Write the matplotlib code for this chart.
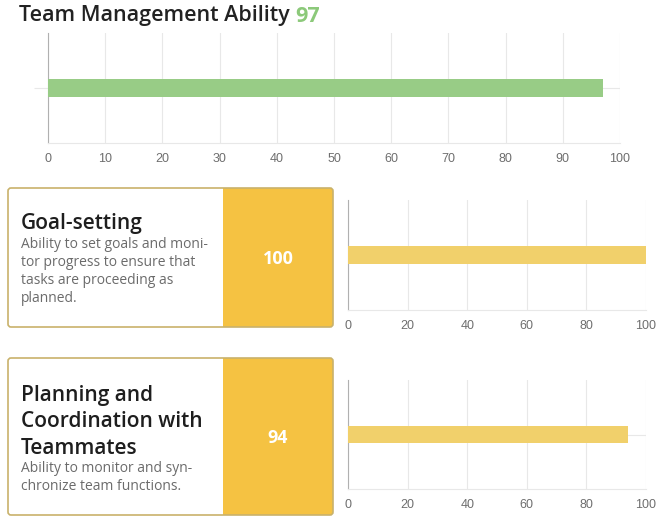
import matplotlib.pyplot as plt
from matplotlib.patches import FancyBboxPatch, Rectangle

W, H = 668, 525

overall_title = "Team Management Ability"
overall_score = 97
overall_ticks = list(range(0, 101, 10))

skill_titles = [["Goal-setting"], ["Planning and", "Coordination with", "Teammates"]]
skill_descs = [
    ["Ability to set goals and moni-", "tor progress to ensure that",
     "tasks are proceeding as", "planned."],
    ["Ability to monitor and syn-", "chronize team functions."],
]
skill_scores = [100, 94]
skill_ticks = list(range(0, 101, 20))

GREEN = "#98cc86"
GREEN_TXT = "#8cc97a"
BAR_YELLOW = "#f1d06b"
CARD_YELLOW = "#f5c242"
BORDER = "#c9b26b"
GRID = "#e8e8e8"
TICK_TXT = "#6e6e6e"

TITLE_FONT = ["Open Sans", "DejaVu Sans"]
TICK_FONT = ["Liberation Sans", "DejaVu Sans"]

fig = plt.figure(figsize=(W / 100, H / 100), dpi=100)

# calque de fond en pixels
bg = fig.add_axes([0, 0, 1, 1])
bg.set_xlim(0, W)
bg.set_ylim(H, 0)
bg.axis("off")


def px_axes(x0, y0, x1, y1):
    return fig.add_axes([x0 / W, 1 - y1 / H, (x1 - x0) / W, (y1 - y0) / H])


def bar_chart(ax, value, color, ticks, left_tick=False):
    ax.barh([0], [value], height=0.155, color=color, zorder=3)
    ax.set_xlim(0, 100)
    ax.set_ylim(-0.5, 0.5)
    ax.set_xticks(ticks)
    ax.set_yticks([0])
    ax.set_yticklabels([""])
    ax.grid(True, color=GRID, lw=0.8, zorder=0)
    for s in ["top", "right"]:
        ax.spines[s].set_visible(False)
    ax.spines["left"].set_color("#b0b0b0")
    ax.spines["left"].set_linewidth(0.8)
    ax.spines["bottom"].set_color(GRID)
    ax.spines["bottom"].set_linewidth(0.8)
    ax.tick_params(axis="x", length=0, pad=7, labelsize=9, labelcolor=TICK_TXT)
    ax.tick_params(axis="y", length=10 if left_tick else 0, color=GRID, width=0.8)
    for lab in ax.get_xticklabels():
        lab.set_fontfamily(TICK_FONT)
    ax.set_facecolor("none")


# titre du haut
t = bg.text(19, 16, overall_title + " ", fontsize=15.5, color="#222222",
            family=TITLE_FONT, fontweight="semibold", va="center", ha="left")
fig.canvas.draw()
x_end = t.get_window_extent().x1
bg.annotate(str(overall_score), xy=(x_end, H - 16), xycoords="figure pixels",
            fontsize=15.5, color=GREEN_TXT, family=TITLE_FONT, fontweight="bold",
            va="center", ha="left")

ax0 = px_axes(48, 33, 620, 143)
bar_chart(ax0, overall_score, GREEN, overall_ticks, left_tick=True)

# cartes des compétences
cards = [(188, 327), (358, 515)]
charts = [(200, 310), (380, 489)]
title_y = [224, 395]
for i, (titles, descs, score) in enumerate(zip(skill_titles, skill_descs, skill_scores)):
    y0, y1 = cards[i]
    bg.add_patch(FancyBboxPatch((8, y0), 325, y1 - y0,
                                boxstyle="round,pad=0,rounding_size=3",
                                fc=CARD_YELLOW, ec="none", zorder=1))
    bg.add_patch(Rectangle((8, y0), 215, y1 - y0, fc="white", ec="none", zorder=2))
    bg.add_patch(FancyBboxPatch((8, y0), 325, y1 - y0,
                                boxstyle="round,pad=0,rounding_size=3",
                                fc="none", ec=BORDER, lw=1.2, zorder=3))
    y = title_y[i]
    for k, line in enumerate(titles):
        bg.text(21, y + k * 26.8, line, fontsize=15, color="#1e1e1e", family=TITLE_FONT,
                fontweight="semibold", va="center", ha="left", zorder=4)
    yd = y + (len(titles) - 1) * 26.8 + 20
    for k, line in enumerate(descs):
        bg.text(21, yd + k * 18.3, line, fontsize=10, color="#6b6b6b", family=TITLE_FONT,
                va="center", ha="left", zorder=4)
    bg.text(278, (y0 + y1) / 2 + 1.5, str(score), fontsize=13, color="white",
            family=TITLE_FONT, fontweight="bold", va="center", ha="center", zorder=4)

    ay0, ay1 = charts[i]
    ax = px_axes(348, ay0, 646, ay1)
    bar_chart(ax, score, BAR_YELLOW, skill_ticks)

fig.savefig("out.png", dpi=100)
